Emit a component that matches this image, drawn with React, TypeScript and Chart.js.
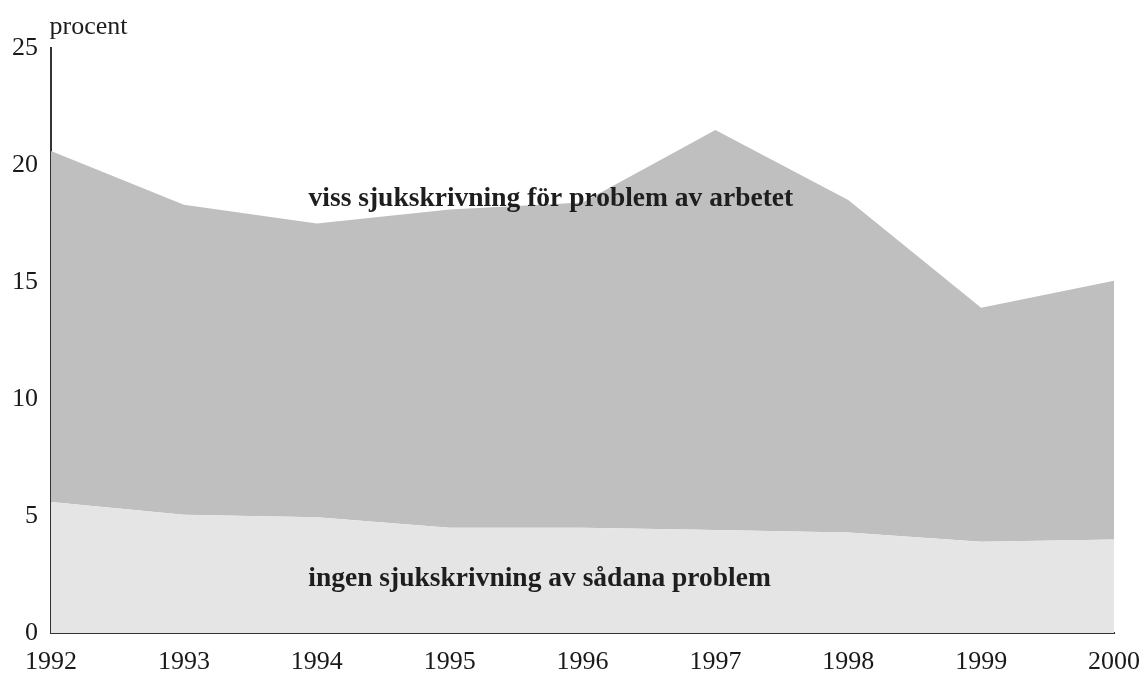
import React, { useEffect, useRef } from "react";
import { Chart, registerables } from "chart.js";

Chart.register(...registerables);

const years = ["1992", "1993", "1994", "1995", "1996", "1997", "1998", "1999", "2000"];
// bottom band: ingen sjukskrivning av sådana problem
const ingen = [5.6, 5.05, 4.95, 4.5, 4.5, 4.4, 4.3, 3.9, 4.0];
// upper band (stacked on top): viss sjukskrivning för problem av arbetet
const viss = [15.0, 13.25, 12.55, 13.6, 13.9, 17.1, 14.2, 10.0, 11.05];
const yTicks = [0, 5, 10, 15, 20, 25];

const unitLabel = "procent";
const vissLabel = "viss sjukskrivning för problem av arbetet";
const ingenLabel = "ingen sjukskrivning av sådana problem";

const SERIF = "'Liberation Serif', 'Times New Roman', serif";

export default function App() {
  const ref = useRef<HTMLCanvasElement | null>(null);

  useEffect(() => {
    if (!ref.current) return;
    const labelPlugin = {
      id: "bandLabels",
      afterDatasetsDraw(chart: any) {
        const { ctx, scales, chartArea } = chart;
        const x = scales.x;
        const y = scales.y;
        ctx.save();
        ctx.fillStyle = "#1e1e1e";
        ctx.font = `bold 27.5px ${SERIF}`;
        ctx.textAlign = "center";
        ctx.textBaseline = "alphabetic";
        const px = (i: number) => x.getPixelForValue(0) + (x.getPixelForValue(1) - x.getPixelForValue(0)) * i;
        ctx.fillText(vissLabel, px(3.762), y.getPixelForValue(18.25));
        ctx.fillText(ingenLabel, px(3.677), y.getPixelForValue(2.0));
        ctx.font = `26px ${SERIF}`;
        ctx.textAlign = "left";
        ctx.fillText(unitLabel, chartArea.left - 1.5, 34);
        ctx.restore();
      },
    };

    const chart = new Chart(ref.current, {
      type: "line",
      data: {
        labels: years,
        datasets: [
          {
            label: ingenLabel,
            data: ingen,
            fill: "origin",
            backgroundColor: "#e5e5e5",
            borderWidth: 0,
            pointRadius: 0,
            tension: 0,
          },
          {
            label: vissLabel,
            data: viss,
            fill: "-1",
            backgroundColor: "#bfbfbf",
            borderWidth: 0,
            pointRadius: 0,
            tension: 0,
          },
        ],
      },
      options: {
        animation: false,
        responsive: false,
        devicePixelRatio: 1,
        layout: { padding: { left: 0, right: 30, top: 48, bottom: 0 } },
        plugins: {
          legend: { display: false },
          tooltip: { enabled: false },
          title: { display: false },
        },
        scales: {
          x: {
            type: "category",
            offset: false,
            grid: { display: false, drawTicks: false },
            border: { display: true, color: "#333333", width: 2 },
            ticks: {
              color: "#1a1a1a",
              font: { family: SERIF, size: 26 },
              padding: 14,
              maxRotation: 0,
              autoSkip: false,
            },
            afterFit(scale: any) {
              scale.height = 40;
              scale.paddingLeft = 0;
              scale.paddingRight = 0;
            },
          },
          y: {
            stacked: true,
            min: 0,
            max: 25,
            afterBuildTicks(scale: any) {
              scale.ticks = yTicks.map((v) => ({ value: v }));
            },
            grid: { display: false, drawTicks: false },
            border: { display: true, color: "#333333", width: 2 },
            ticks: {
              color: "#1a1a1a",
              font: { family: SERIF, size: 26 },
              padding: 13,
            },
            afterFit(scale: any) {
              scale.width = 51;
              scale.paddingTop = 0;
              scale.paddingBottom = 0;
            },
          },
        },
      },
      plugins: [labelPlugin],
    });
    return () => chart.destroy();
  }, []);

  return (
    <div style={{ position: "fixed", left: 0, top: 0, width: 1144, height: 673, background: "#ffffff" }}>
      <canvas ref={ref} width={1144} height={673} style={{ width: 1144, height: 673, display: "block" }} />
    </div>
  );
}
